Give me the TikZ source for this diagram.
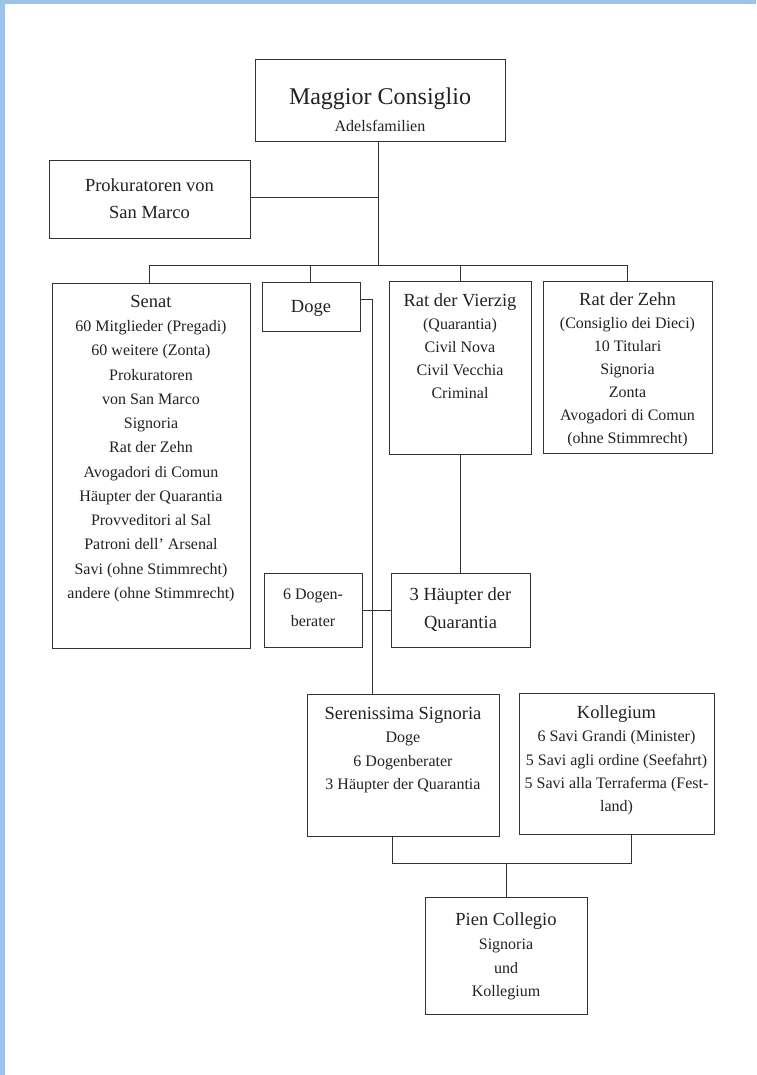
\documentclass[tikz,border=0pt]{standalone}
\usepackage{fontspec}
\setmainfont{Liberation Serif}
\definecolor{edgeblue}{HTML}{9DC3E6}
\definecolor{ink}{HTML}{222222}
\definecolor{rulec}{HTML}{333333}
\newcommand{\ttl}[1]{{\fontsize{18.5}{23}\selectfont #1}}
\begin{document}
\begin{tikzpicture}[x=1pt,y=-1pt,
  orgbox/.style={draw=rulec,line width=1pt,inner sep=0pt},
  txt/.style={text=ink,align=center,inner sep=0pt,font=\fontsize{16}{23}\selectfont},
  conn/.style={draw=rulec,line width=0.8pt}]
\useasboundingbox (0,0) rectangle (756,1075);
\fill[white] (0,0) rectangle (756,1075);
\fill[edgeblue] (0,0) rectangle (756,4);
\fill[edgeblue] (0,0) rectangle (5,1075);

% boxes
\node[orgbox,minimum width=250pt,minimum height=82pt] (mc) at (380,101) {};
\node[orgbox,minimum width=201pt,minimum height=78pt] (prok) at (149.5,200) {};
\node[orgbox,minimum width=198pt,minimum height=365pt] (senat) at (151,465.5) {};
\node[orgbox,minimum width=98pt,minimum height=49pt] (doge) at (311,306.5) {};
\node[orgbox,minimum width=142pt,minimum height=173pt] (vierzig) at (460,367.5) {};
\node[orgbox,minimum width=169pt,minimum height=172pt] (zehn) at (627.5,367) {};
\node[orgbox,minimum width=98pt,minimum height=74pt] (dogenb) at (313,610) {};
\node[orgbox,minimum width=139pt,minimum height=74pt] (haeupter) at (460.5,610) {};
\node[orgbox,minimum width=192pt,minimum height=142pt] (signoria) at (403,765) {};
\node[orgbox,minimum width=195pt,minimum height=141pt] (kolleg) at (616.5,763.5) {};
\node[orgbox,minimum width=162pt,minimum height=117pt] (pien) at (506,955.5) {};

% texts
\node[txt] (mcT) at (380,110) {{\fontsize{24}{23}\selectfont Maggior Consiglio}\\[4pt]Adelsfamilien};
\node[txt,font=\fontsize{18.5}{27}\selectfont] (prokT) at (149.5,198.5) {Prokuratoren von\\San Marco};
\node[txt,font=\fontsize{16}{24.25}\selectfont] (senatT) at (151,448.5) {\ttl{Senat}\\60 Mitglieder (Pregadi)\\60 weitere (Zonta)\\Prokuratoren\\von San Marco\\Signoria\\Rat der Zehn\\Avogadori di Comun\\Häupter der Quarantia\\Provveditori al Sal\\Patroni dell' Arsenal\\Savi (ohne Stimmrecht)\\andere (ohne Stimmrecht)};
\node[txt] (dogeT) at (311,308) {\ttl{Doge}};
\node[txt] (vierzigT) at (460,346) {\ttl{Rat der Vierzig}\\(Quarantia)\\Civil Nova\\Civil Vecchia\\Criminal};
\node[txt] (zehnT) at (627.5,370) {\ttl{Rat der Zehn}\\(Consiglio dei Dieci)\\10 Titulari\\Signoria\\Zonta\\Avogadori di Comun\\(ohne Stimmrecht)};
\node[txt,font=\fontsize{16}{27}\selectfont] (dogenbT) at (313,608) {6 Dogen-\\berater};
\node[txt,font=\fontsize{18.5}{28}\selectfont] (haeupterT) at (460.5,609.5) {3 Häupter der\\Quarantia};
\node[txt,font=\fontsize{16}{23.3}\selectfont] (signoriaT) at (403,750) {\ttl{Serenissima Signoria}\\Doge\\6 Dogenberater\\3 Häupter der Quarantia};
\node[txt,font=\fontsize{16}{23.3}\selectfont] (kollegT) at (616.5,760.5) {\ttl{Kollegium}\\6 Savi Grandi (Minister)\\5 Savi agli ordine (Seefahrt)\\5 Savi alla Terraferma (Fest-\\land)};
\node[txt,font=\fontsize{16}{23.7}\selectfont] (pienT) at (506,956.5) {\ttl{Pien Collegio}\\Signoria\\und\\Kollegium};

% connectors
\coordinate (trunk) at (378,265);
\coordinate (pj) at (378,197);
\coordinate (busL) at (149,265);
\coordinate (busR) at (627,265);
\coordinate (busD) at (310,265);
\coordinate (busV) at (460,265);
\draw[conn] (mc.south -| trunk) -- (trunk);
\draw[conn] (prok.east |- pj) -- (pj);
\draw[conn] (busL) -- (busR);
\draw[conn] (busL) -- (senat.north -| busL);
\draw[conn] (busD) -- (doge.north -| busD);
\draw[conn] (busV) -- (vierzig.north -| busV);
\draw[conn] (busR) -- (zehn.north -| busR);
\coordinate (dk) at (372,299);
\draw[conn] (doge.east |- dk) -- (dk) -- (dk |- signoria.north);
\draw[conn] (vierzig.south -| busV) -- (haeupter.north -| busV);
\draw[conn] (dogenb.east) -- (haeupter.west);
\coordinate (bl) at (392,863);
\coordinate (br) at (631,863);
\draw[conn] (signoria.south -| bl) -- (bl) -- (br) -- (kolleg.south -| br);
\draw[conn] (pien.north |- bl) -- (pien.north);
\end{tikzpicture}
\end{document}
